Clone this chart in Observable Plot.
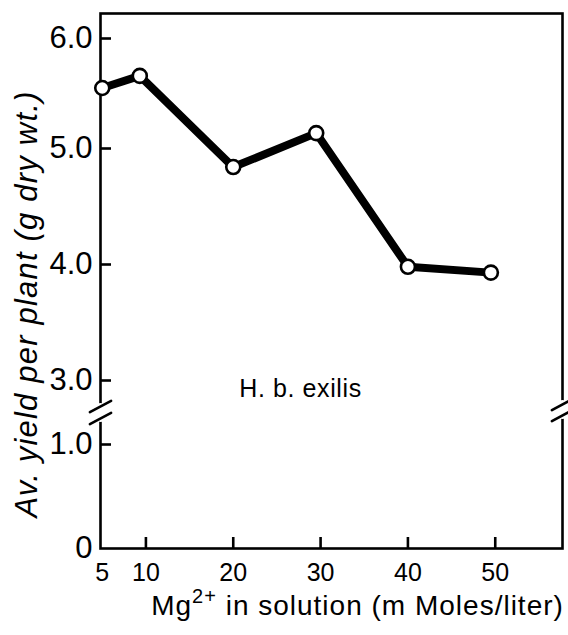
<!DOCTYPE html>
<html>
<head>
<meta charset="utf-8">
<script src="https://cdn.jsdelivr.net/npm/d3@7"></script>
<script src="https://cdn.jsdelivr.net/npm/@observablehq/plot@0.6"></script>
<style>
  html, body { margin: 0; padding: 0; background: #fff; }
  #chart svg { display: block; }
</style>
</head>
<body>
<div id="chart"></div>
<script>
// ---- data ----
const concentrations = [5, 9.3, 20, 29.5, 40, 49.5];      // Mg2+ (m Moles/liter)
const yields = [5.55, 5.66, 4.84, 5.14, 3.98, 3.93];        // g dry wt. per plant
const xTicks = [5, 10, 20, 30, 40, 50];
const yTicks = [0, 1, 3, 4, 5, 6];
const xDomain = [4.8, 57.7];
const yBreakValue = 2;                 // inside the broken part of the y axis
const seriesLabel = "H. b. exilis";
const yTitle = "Av. yield per plant (g dry wt.)";
const xTitleParts = ["Mg", "2+", " in solution (m Moles/liter)"];

const data = concentrations.map((c, i) => ({c, y: yields[i]}));
const xTitle = xTitleParts.join("");

const font = "Liberation Sans, Arial, Helvetica, sans-serif";
const lineShape = {draw(context, l) { context.moveTo(0, 0); context.lineTo(0, -l); }};
const SW = 2.6;

const W = 568, H = 635, mTop = 13, mBottom = 87, mLeft = 100, mRight = 6;
const yDomain = [0, 1, 3, 4, 5, 6, 6.22];
const yRange = [548, 444, 380, 264, 148, 38, 13];
const tickLen = 11;
// tick length expressed in data units of each scale
const xTickLen = tickLen * (xDomain[1] - xDomain[0]) / (W - mLeft - mRight);
const yTickLen = tickLen * (yDomain[1] - yDomain[0]) / (yRange[0] - yRange[1]);

// white gap in the frame line at the break, with two slanted strokes
function breakMarks(xv, dy0, dy1, gapDy) {
  return [
    Plot.vector([0], {x: () => xv, y: () => yBreakValue, length: 12, rotate: 0, anchor: "middle",
      shape: lineShape, stroke: "white", strokeWidth: 7, dy: gapDy}),
    Plot.vector([0], {x: () => xv, y: () => yBreakValue, dy: dy0, length: 24, rotate: 62,
      anchor: "middle", shape: lineShape, stroke: "black", strokeWidth: SW}),
    Plot.vector([0], {x: () => xv, y: () => yBreakValue, dy: dy1, length: 24, rotate: 62,
      anchor: "middle", shape: lineShape, stroke: "black", strokeWidth: SW})
  ];
}

const svg = Plot.plot({
  width: W,
  height: H,
  marginTop: mTop,
  marginBottom: mBottom,
  marginLeft: mLeft,
  marginRight: mRight,
  style: {fontFamily: font, background: "white", color: "black"},
  x: {type: "linear", domain: xDomain},
  // broken axis: 0–1 below the break, 3–6.2 above it
  y: {type: "linear", domain: yDomain, range: yRange},
  marks: [
    Plot.frame({stroke: "black", strokeWidth: SW}),
    ...breakMarks(xDomain[1], -8, 3, -3),
    ...breakMarks(xDomain[0], -6, 6, 0),
    // inward tick marks
    Plot.ruleY(yTicks.filter(d => d > 0), {y: d => d, x1: () => xDomain[0], x2: () => xDomain[0] + xTickLen,
      stroke: "black", strokeWidth: SW}),
    Plot.ruleX(xTicks.filter(d => d > 5), {x: d => d, y1: () => yDomain[0], y2: () => yDomain[0] + yTickLen,
      stroke: "black", strokeWidth: SW}),
    // tick labels
    Plot.axisY({ticks: yTicks, tickSize: 0, tickPadding: 8, fontSize: 31,
      tickFormat: d => d === 0 ? "0" : d.toFixed(1), label: null}),
    Plot.axisX({ticks: xTicks, tickSize: 0, tickPadding: 15, fontSize: 25,
      tickFormat: d => String(d), label: null}),
    // axis titles
    Plot.text([yTitle], {text: d => d, frameAnchor: "left", textAnchor: "middle", rotate: -90,
      dx: -73, dy: 23, fontSize: 31, fontStyle: "italic"}),
    Plot.text([xTitle], {text: d => d, frameAnchor: "bottom", textAnchor: "middle",
      dx: 26, dy: 66, fontSize: 28}),
    // series label
    Plot.text([seriesLabel], {text: d => d, x: () => 27.7, y: () => 2.72, fontSize: 25}),
    // data
    Plot.line(data, {x: "c", y: "y", stroke: "black", strokeWidth: 8, strokeLinejoin: "round"}),
    Plot.dot(data, {x: "c", y: "y", r: 7, fill: "white", stroke: "black", strokeWidth: SW})
  ]
});

// superscript in the x-axis title, and letter spacing as in the original
d3.select(svg).selectAll("text")
  .filter(function() { return this.textContent === xTitle; })
  .each(function() {
    const t = d3.select(this);
    t.text(null).style("letter-spacing", "1px");
    t.append("tspan").text(xTitleParts[0]);
    t.append("tspan").attr("dy", -12).attr("font-size", 20).text(xTitleParts[1]);
    t.append("tspan").attr("dy", 12).text(xTitleParts[2]);
  });
d3.select(svg).selectAll("text")
  .filter(function() { return this.textContent === seriesLabel; })
  .style("letter-spacing", "0.6px");
d3.select(svg).selectAll("text")
  .filter(function() { return this.textContent === yTitle; })
  .style("letter-spacing", "1.2px");

document.getElementById("chart").append(svg);
</script>
</body>
</html>
